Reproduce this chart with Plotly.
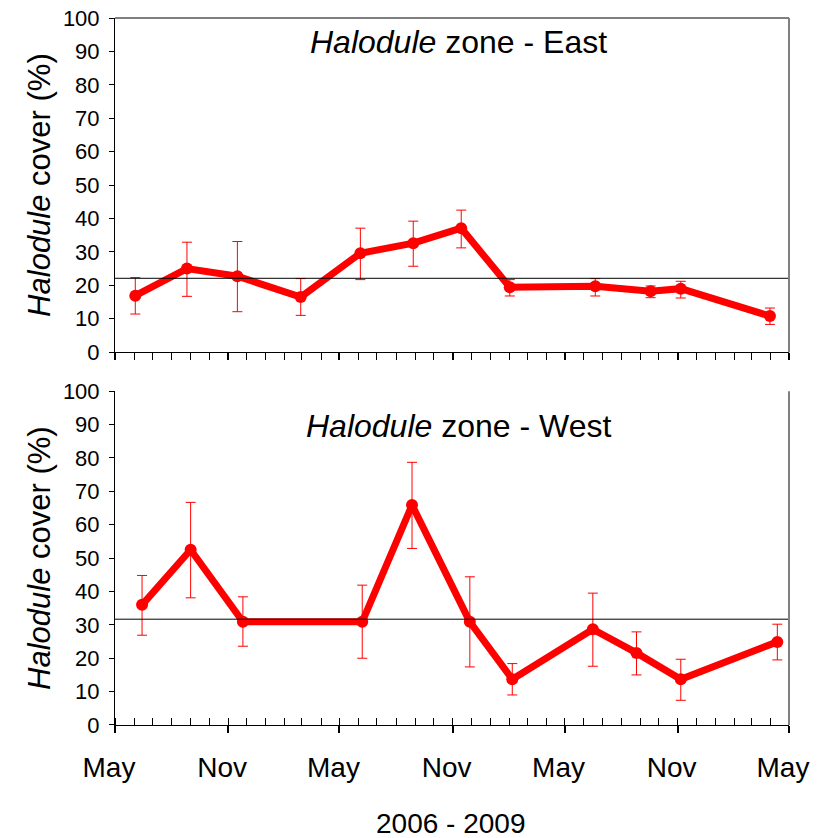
import plotly.graph_objects as go

# ---------------- data ----------------
east_dates = ["2006-06-03", "2006-08-26", "2006-11-16", "2007-02-27", "2007-06-04", "2007-08-29",
              "2007-11-15", "2008-02-02", "2008-06-20", "2008-09-18", "2008-11-06", "2009-03-31"]
east_cover = [16.9, 25.0, 22.7, 16.5, 29.6, 32.6, 37.1, 19.4, 19.7, 18.2, 19.0, 10.8]
east_err_plus = [5.4, 7.9, 10.4, 5.5, 7.5, 6.6, 5.4, 2.3, 2.3, 1.6, 2.2, 2.4]
east_err_minus = [5.5, 8.3, 10.6, 5.5, 7.9, 6.9, 5.9, 2.6, 2.9, 1.9, 2.8, 2.5]
east_mean = 22.1

west_dates = ["2006-06-14", "2006-09-01", "2006-11-25", "2007-06-07", "2007-08-27", "2007-11-29",
              "2008-02-06", "2008-06-16", "2008-08-26", "2008-11-06", "2009-04-12"]
west_cover = [36.0, 52.5, 30.9, 30.9, 65.9, 30.9, 13.7, 28.7, 21.6, 13.7, 24.9]
west_err_plus = [8.8, 14.2, 7.5, 11.0, 12.8, 13.5, 4.7, 10.8, 6.3, 6.0, 5.3]
west_err_minus = [9.1, 14.4, 7.3, 10.9, 13.0, 13.5, 4.7, 11.1, 6.6, 6.3, 5.4]
west_mean = 31.7

x_range = ["2006-05-01", "2009-05-01"]
y_ticks = list(range(0, 101, 10))
panel_titles = ["<i>Halodule</i> zone - East", "<i>Halodule</i> zone - West"]
y_title = "<i>Halodule</i> cover (%)"
x_title = "2006 - 2009"

FONT = "Liberation Sans, Arial, sans-serif"
RED = "#ff0000"

fig = go.Figure()

def add_series(dates, vals, ep, em, xa, ya):
    fig.add_trace(go.Scatter(
        x=dates, y=vals, mode="lines+markers",
        line=dict(color=RED, width=7),
        marker=dict(color=RED, size=12),
        error_y=dict(type="data", symmetric=False, array=ep, arrayminus=em,
                     color=RED, thickness=1, width=5),
        xaxis=xa, yaxis=ya, showlegend=False, hoverinfo="x+y"))

add_series(east_dates, east_cover, east_err_plus, east_err_minus, "x", "y")
add_series(west_dates, west_cover, west_err_plus, west_err_minus, "x2", "y2")

top_dom = [0.5274, 1.0]
bot_dom = [0.0, 0.4721]

def xaxis_cfg(anchor, minor_side, show_labels):
    return dict(
        type="date", range=x_range, anchor=anchor, domain=[0, 1], automargin=False,
        tick0="2006-05-01", dtick="M6", tickformat="%b",
        ticks="outside", ticklen=7, tickwidth=2, tickcolor="black",
        showline=True, linecolor="black", linewidth=1,
        showgrid=False, zeroline=False,
        showticklabels=show_labels,
        tickfont=dict(family=FONT, size=28, color="black"),
        ticklabelstandoff=10, ticklabelshift=-6, ticklabeloverflow="allow",
        minor=dict(dtick="M1", tick0="2006-05-01", ticks=minor_side, ticklen=7,
                   tickwidth=1, tickcolor="black", showgrid=False),
    )

def overlay_cfg(overlay, anchor):
    return dict(
        type="date", range=x_range, overlaying=overlay, anchor=anchor, domain=[0, 1],
        automargin=False,
        tick0="2006-05-01", dtick="M6", ticks="inside", ticklen=7, tickwidth=2,
        tickcolor="black", showticklabels=False, showgrid=False, zeroline=False,
        showline=False,
    )

def yaxis_cfg(anchor, dom):
    return dict(
        range=[0, 100], tickvals=y_ticks, anchor=anchor, domain=dom, automargin=False,
        ticks="outside", ticklen=5, tickwidth=1, tickcolor="black",
        showline=True, linecolor="black", linewidth=1,
        showgrid=False, zeroline=False,
        tickfont=dict(family=FONT, size=22, color="black"),
        ticklabelstandoff=5, ticklabeloverflow="allow",
        title=dict(text=y_title, font=dict(family=FONT, size=31, color="black"), standoff=3),
    )

fig.update_layout(
    width=817, height=838,
    margin=dict(l=115, r=28, t=18, b=113, autoexpand=False),
    paper_bgcolor="white", plot_bgcolor="white",
    font=dict(family=FONT, color="black"),
    xaxis=xaxis_cfg("y", "outside", False),
    xaxis2=xaxis_cfg("y2", "inside", True),
    xaxis3=overlay_cfg("x", "y"),
    xaxis4=overlay_cfg("x2", "y2"),
    yaxis=yaxis_cfg("x", top_dom),
    yaxis2=yaxis_cfg("x2", bot_dom),
)

# mean reference lines
fig.add_shape(type="line", xref="x domain", yref="y", x0=0, x1=1, y0=east_mean, y1=east_mean,
              line=dict(color="black", width=1))
fig.add_shape(type="line", xref="x2 domain", yref="y2", x0=0, x1=1, y0=west_mean, y1=west_mean,
              line=dict(color="black", width=1))
# frame: top line (top panel) and grey right borders
fig.add_shape(type="line", xref="x domain", yref="y domain", x0=0, x1=1, y0=1, y1=1,
              line=dict(color="black", width=1))
fig.add_shape(type="line", xref="x domain", yref="y domain", x0=1, x1=1, y0=0, y1=1,
              line=dict(color="#808080", width=2))
fig.add_shape(type="line", xref="x2 domain", yref="y2 domain", x0=1, x1=1, y0=0, y1=1,
              line=dict(color="#808080", width=2))

fig.add_annotation(text=panel_titles[0], x=0.509, y=0.966, xref="paper", yref="paper",
                   xanchor="center", yanchor="middle",
                   showarrow=False, font=dict(family=FONT, size=32, color="black"))
fig.add_annotation(text=panel_titles[1], x=0.509, y=0.4235, xref="paper", yref="paper",
                   xanchor="center", yanchor="middle",
                   showarrow=False, font=dict(family=FONT, size=32, color="black"))
fig.add_annotation(text=x_title, x=0.4985, y=-0.140, xref="paper", yref="paper",
                   xanchor="center", yanchor="middle",
                   showarrow=False, font=dict(family=FONT, size=28, color="black"))

fig.write_html("out.html", config={"displayModeBar": False},
               post_script="document.body.style.margin='0';document.body.style.overflow='hidden';")
